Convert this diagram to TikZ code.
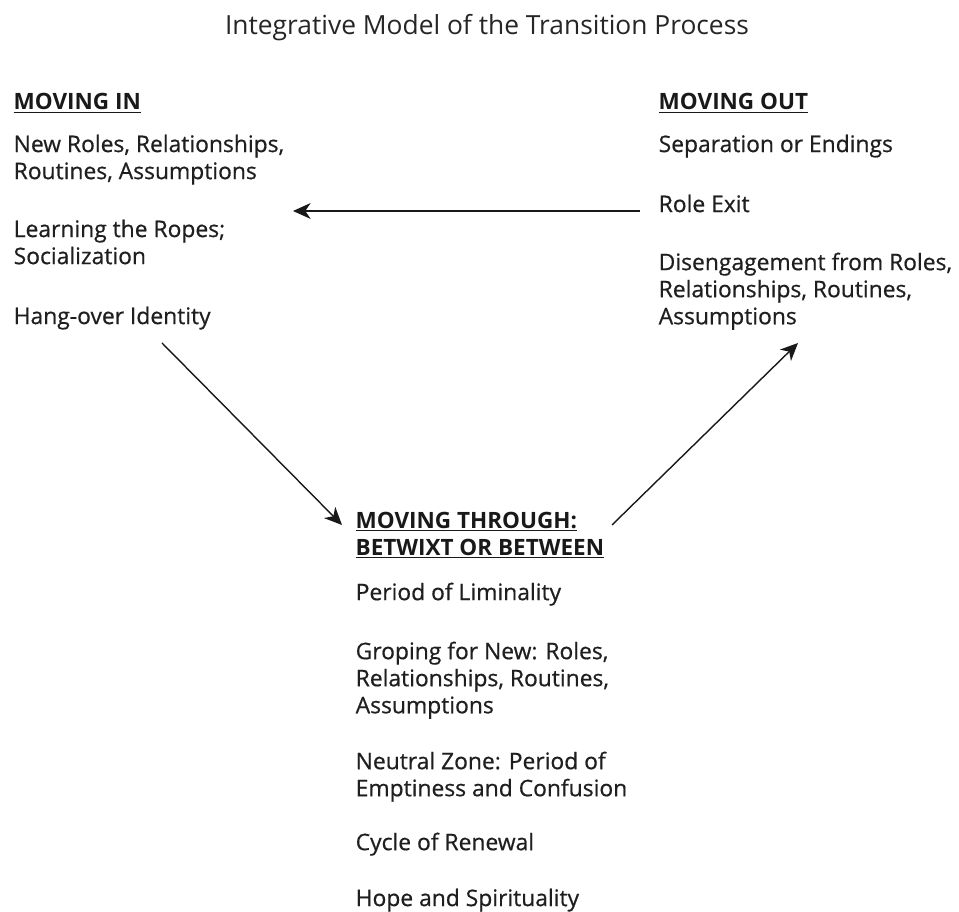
\documentclass[tikz,border=0pt]{standalone}
\usepackage{fontspec}
\setmainfont{Open Sans}
\newfontfamily\bodyfont[FakeBold=0.6]{Open Sans}
\usetikzlibrary{arrows.meta}

\begin{document}
\begin{tikzpicture}[line width=0.8pt,
  txt/.style={anchor=north west,inner sep=0pt,align=left,text=black!88,
    font=\bodyfont\fontsize{13}{15.4}\selectfont},
  head/.style={anchor=base west,inner sep=0pt,align=left,text=black!90,
    font=\bfseries\fontsize{12.8}{15.4}\selectfont},
  flow/.style={-{Stealth[length=10pt,width=9pt,inset=3pt]},black!90}]
  \useasboundingbox (0,0) rectangle (19.18,18.22);

  % title
  \node[anchor=base,inner sep=0pt,text=black!85,font=\fontsize{15}{18}\selectfont]
    (title) at (9.74,17.52) {Integrative Model of the Transition Process};

  % moving in
  \node[head] (inhead) at (0.26,16.02) {\underline{MOVING IN}};
  \node[txt] (newroles) at (0.26,15.54) {New Roles, Relationships,\\Routines, Assumptions};
  \node[txt] (ropes) at (0.26,13.84) {Learning the Ropes;\\Socialization};
  \node[txt] (hangover) at (0.26,12.10) {Hang-over Identity};

  % moving out
  \node[head] (outhead) at (13.16,16.02) {\underline{MOVING OUT}};
  \node[txt] (separation) at (13.16,15.54) {Separation or Endings};
  \node[txt] (roleexit) at (13.16,14.34) {Role Exit};
  \node[txt] (disengage) at (13.16,13.18) {Disengagement from Roles,\\Relationships, Routines,\\Assumptions};

  % moving through
  \node[head,anchor=north west] (throughhead) at (7.10,8.00)
    {\underline{MOVING THROUGH:}\\\underline{BETWIXT OR BETWEEN}};
  \node[txt] (liminality) at (7.10,6.58) {Period of Liminality};
  \node[txt] (groping) at (7.10,5.40) {Groping for New: Roles,\\Relationships, Routines,\\Assumptions};
  \node[txt] (neutral) at (7.10,3.20) {Neutral Zone: Period of\\Emptiness and Confusion};
  \node[txt] (renewal) at (7.10,1.58) {Cycle of Renewal};
  \node[txt] (hope) at (7.10,0.46) {Hope and Spirituality};

  % arrow ends
  \coordinate (exitR) at (12.80,14.00);
  \coordinate (exitL) at (5.86,14.00);
  \coordinate (downA) at (3.24,11.36);
  \coordinate (downB) at (6.84,7.72);
  \coordinate (upA) at (12.24,7.72);
  \coordinate (upB) at (15.96,11.36);

  \draw[flow] (exitR) -- (exitL);
  \draw[flow] (downA) -- (downB);
  \draw[flow] (upA) -- (upB);
\end{tikzpicture}
\end{document}
